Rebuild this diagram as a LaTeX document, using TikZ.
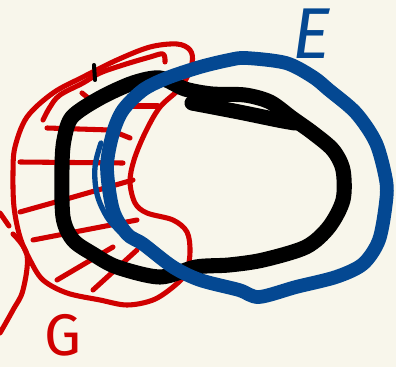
\documentclass[tikz,border=0pt]{standalone}
\usepackage{fontspec}
\newfontfamily\sketchfont{Fira Sans}
\definecolor{paper}{RGB}{248,246,235}
\definecolor{penred}{RGB}{208,0,0}
\definecolor{penblue}{RGB}{4,72,146}
\begin{document}
\begin{tikzpicture}[x=0.75pt, y=-0.75pt, line cap=round, line join=round,
  redpen/.style={draw=penred, line width=3.8pt},
  blackpen/.style={draw=black, line width=11.3pt},
  bluepen/.style={draw=penblue, line width=10.3pt},
  every node/.style={font=\sketchfont, inner sep=0pt}]
  \fill[paper] (0,0) rectangle (396,367);
  \useasboundingbox (0,0) rectangle (396,367);
  % set G (red, hatched)
  \draw[redpen] plot[smooth cycle, tension=0.55] coordinates {(15,147) (27,117) (53,93) (83,77) (117,60) (150,47) (177,44) (190,50) (192,63) (182,86) (160,107) (145,133) (134,160) (130,182) (135,203) (147,213) (173,220) (187,232) (190,252) (186,273) (173,287) (153,300) (127,305) (100,300) (67,293) (43,280) (30,260) (20,237) (14,207) (13,173)};
  \draw[redpen] plot[smooth, tension=0.6] coordinates {(43,120) (50,107) (60,95) (83,83) (100,73) (123,65) (150,57) (163,54) (165,62)};
  \draw[redpen] (82,93) -- (92,101);
  \draw[redpen] (125,106) -- (158,106);
  \draw[redpen] (47,128) -- (110,130) -- (130,138);
  \draw[redpen] (20,162) -- (123,163);
  \draw[redpen] (20,212) -- (70,198) -- (133,180);
  \draw[redpen] (33,240) -- (137,220);
  \draw[redpen] (57,280) -- (113,247);
  \draw[redpen] (93,290) -- (137,250);
  \draw[redpen] plot[smooth, tension=0.6] coordinates {(0,213) (9,226)};
  \draw[redpen] plot[smooth, tension=0.6] coordinates {(13,234) (27,255) (23,290) (13,310) (0,333)};
  % set in the middle (black)
  \draw[black, line width=3pt] (94,65) -- (95,80);
  \draw[blackpen] plot[smooth cycle, tension=0.5] coordinates {(133,83) (160,78) (185,89) (212,94) (245,95) (270,102) (292,118) (313,133) (333,150) (343,170) (343,200) (329,227) (306,247) (263,260) (229,265) (196,267) (160,277) (117,267) (93,254) (73,240) (63,217) (62,167) (64,140) (72,117) (100,98)};
  \draw[blackpen] plot[smooth, tension=0.6] coordinates {(192,103) (239,112) (278,120) (295,123)};
  % set E (blue)
  \draw[bluepen] plot[smooth cycle, tension=0.5] coordinates {(200,67) (229,60) (246,58) (286,63) (313,77) (329,90) (356,113) (376,143) (386,180) (386,202) (379,240) (363,264) (336,277) (296,287) (259,297) (239,290) (200,280) (173,267) (143,244) (127,234) (113,210) (107,167) (113,133) (123,110) (143,90) (167,78)};
  \draw[draw=penblue, line width=4pt] plot[smooth, tension=0.6] coordinates {(101,143) (95,167) (97,194) (107,217) (120,232)};
  % labels
  \node[text=penblue, font=\sketchfont\itshape\fontsize{54}{54}\selectfont] (labelE) at (312,34) {E};
  \node[text=penred, font=\sketchfont\fontsize{44}{44}\selectfont] (labelG) at (63,335) {G};
\end{tikzpicture}
\end{document}
